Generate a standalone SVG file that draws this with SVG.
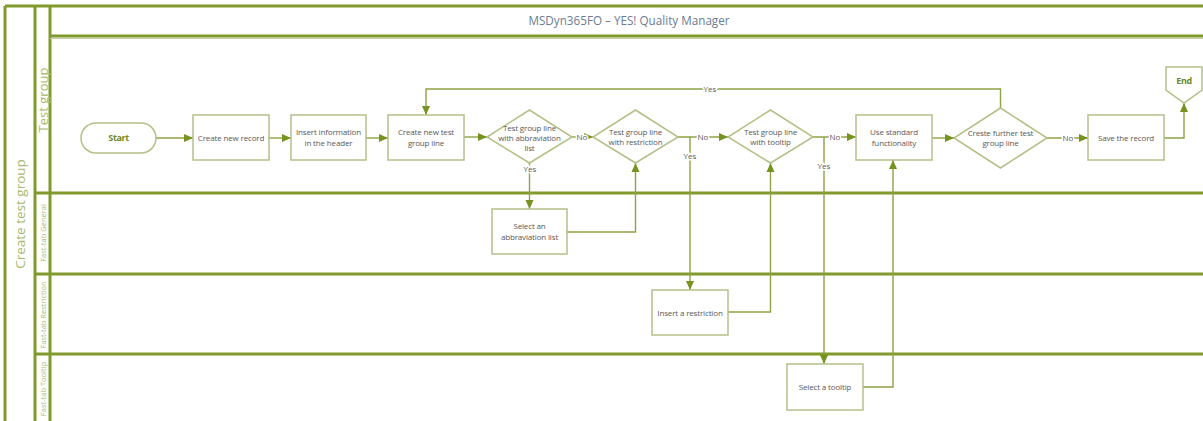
<svg xmlns="http://www.w3.org/2000/svg" width="1203" height="421" viewBox="0 0 1203 421">
<style>
.lane{stroke:#809a2c;stroke-width:3;fill:none}
.lanel{stroke:#c3cf9c;stroke-width:1;fill:none}
.node{fill:#fff;stroke:#b4c088;stroke-width:1.5}
.t{font-family:"Open Sans","Noto Sans",sans-serif;font-size:8px;letter-spacing:-0.15px;fill:#595959;text-anchor:middle}
.tb{font-family:"Open Sans","Noto Sans",sans-serif;font-size:9px;font-weight:bold;fill:#6f8a1c;text-anchor:middle;letter-spacing:-0.4px}
.lbl{font-family:"Open Sans","Noto Sans",sans-serif;font-size:8px;fill:#595959;text-anchor:middle;paint-order:stroke;stroke:#fff;stroke-width:3px}
.conn{fill:none;stroke:#8fa244;stroke-width:1.4}
.sw{font-family:"Open Sans","Noto Sans",sans-serif;fill:#a7b96a;text-anchor:middle}
</style>
<defs>
<marker id="arr" markerUnits="userSpaceOnUse" markerWidth="10" markerHeight="10" viewBox="0 0 10 10" refX="9" refY="5" orient="auto">
<path d="M0,1 L9,5 L0,9 Z" fill="#76921f"/>
</marker>
</defs>
<g id="swimlanes">
<line class="lane" x1="5" y1="6" x2="1203" y2="6"/>
<line class="lane" x1="5" y1="6" x2="5" y2="421"/>
<line class="lane" x1="35" y1="6" x2="35" y2="421"/>
<line class="lane" x1="50" y1="6" x2="50" y2="421"/>
<line class="lane" x1="50" y1="36" x2="1203" y2="36"/>
<line class="lanel" x1="50" y1="38.5" x2="1203" y2="38.5"/>
<line class="lane" x1="35" y1="193" x2="1203" y2="193"/>
<line class="lane" x1="35" y1="274" x2="1203" y2="274"/>
<line class="lane" x1="35" y1="354" x2="1203" y2="354"/>
<text x="629" y="25" font-family="'Open Sans','Noto Sans',sans-serif" font-size="11.7" fill="#6b7c93" text-anchor="middle">MSDyn365FO – YES! Quality Manager</text>
<text class="sw" font-size="13.5" transform="translate(24.5,214) rotate(-90)">Create test group</text>
<text class="sw" font-size="13" transform="translate(47.5,100) rotate(-90)">Test group</text>
<text class="sw" font-size="7.5" transform="translate(45.5,233) rotate(-90)">Fast-tab General</text>
<text class="sw" font-size="7.5" transform="translate(45.5,315) rotate(-90)">Fast-tab Restriction</text>
<text class="sw" font-size="7.5" transform="translate(45.5,389) rotate(-90)">Fast-tab Tooltip</text>
</g>
<g id="connectors">
<path class="conn" d="M156,138 H193" marker-end="url(#arr)"/>
<path class="conn" d="M269,138 H291" marker-end="url(#arr)"/>
<path class="conn" d="M366,138 H388" marker-end="url(#arr)"/>
<path class="conn" d="M464,137 H487" marker-end="url(#arr)"/>
<path class="conn" d="M572,137 H593" marker-end="url(#arr)"/>
<text class="lbl" x="582" y="140">No</text>
<path class="conn" d="M529.5,163 V209" marker-end="url(#arr)"/>
<text class="lbl" x="530" y="172">Yes</text>
<path class="conn" d="M567,232 H635.5 V163" marker-end="url(#arr)"/>
<path class="conn" d="M678,137 H728" marker-end="url(#arr)"/>
<text class="lbl" x="703" y="140">No</text>
<path class="conn" d="M690,137 V290" marker-end="url(#arr)"/>
<text class="lbl" x="690" y="159">Yes</text>
<path class="conn" d="M728,312 H770.5 V163" marker-end="url(#arr)"/>
<path class="conn" d="M813,137 H856" marker-end="url(#arr)"/>
<text class="lbl" x="835" y="140">No</text>
<path class="conn" d="M824,137 V364" marker-end="url(#arr)"/>
<text class="lbl" x="824" y="169">Yes</text>
<path class="conn" d="M863,387 H893 V160" marker-end="url(#arr)"/>
<path class="conn" d="M932,138 H954" marker-end="url(#arr)"/>
<path class="conn" d="M1047,138 H1088" marker-end="url(#arr)"/>
<text class="lbl" x="1068" y="141">No</text>
<path class="conn" d="M1000.5,108 V89 H426 V115" marker-end="url(#arr)"/>
<text class="lbl" x="710" y="92">Yes</text>
<path class="conn" d="M1164,138 H1184 V103" marker-end="url(#arr)"/>
</g>
<g id="start">
<rect class="node" x="81" y="123" width="75" height="30" rx="15"/>
<text class="tb" x="118.5" y="141">Start</text>
</g>
<g id="create-record">
<rect class="node" x="193" y="115" width="76" height="45"/>
<text class="t" x="231" y="140.5">Create new record</text>
</g>
<g id="insert-header">
<rect class="node" x="291" y="115" width="75" height="45"/>
<text class="t" x="328.5" y="135">Insert information</text>
<text class="t" x="328.5" y="146">in the header</text>
</g>
<g id="create-line">
<rect class="node" x="388" y="115" width="76" height="45"/>
<text class="t" x="426" y="135">Create new test</text>
<text class="t" x="426" y="146">group line</text>
</g>
<g id="dec-abbrev">
<polygon class="node" points="529.5,110 572,137 529.5,163 487,137"/>
<text class="t" x="529.5" y="131">Test group line</text>
<text class="t" x="529.5" y="141">with abbraviation</text>
<text class="t" x="529.5" y="151">list</text>
</g>
<g id="dec-restriction">
<polygon class="node" points="635.5,110 678,137 635.5,163 593,137"/>
<text class="t" x="635.5" y="135">Test group line</text>
<text class="t" x="635.5" y="145">with restriction</text>
</g>
<g id="dec-tooltip">
<polygon class="node" points="770.5,110 813,137 770.5,163 728,137"/>
<text class="t" x="770.5" y="135">Test group line</text>
<text class="t" x="770.5" y="145">with tooltip</text>
</g>
<g id="standard">
<rect class="node" x="856" y="115" width="76" height="45"/>
<text class="t" x="894" y="135">Use standard</text>
<text class="t" x="894" y="146">functionality</text>
</g>
<g id="dec-further">
<polygon class="node" points="1000.5,108 1047,138 1000.5,168 954,138"/>
<text class="t" x="1000.5" y="136">Creste further test</text>
<text class="t" x="1000.5" y="146">group line</text>
</g>
<g id="save">
<rect class="node" x="1088" y="115" width="76" height="45"/>
<text class="t" x="1126" y="140.5">Save the record</text>
</g>
<g id="end">
<polygon class="node" points="1166,67 1202,67 1202,90 1184,103 1166,90"/>
<text class="tb" x="1184" y="84">End</text>
</g>
<g id="select-abbrev">
<rect class="node" x="492" y="209" width="75" height="45"/>
<text class="t" x="529.5" y="229">Select an</text>
<text class="t" x="529.5" y="240">abbraviation list</text>
</g>
<g id="insert-restriction">
<rect class="node" x="652" y="290" width="76" height="45"/>
<text class="t" x="690" y="315.5">Insert a restriction</text>
</g>
<g id="select-tooltip">
<rect class="node" x="787" y="364" width="76" height="46"/>
<text class="t" x="825" y="390">Select a tooltip</text>
</g>
</svg>
